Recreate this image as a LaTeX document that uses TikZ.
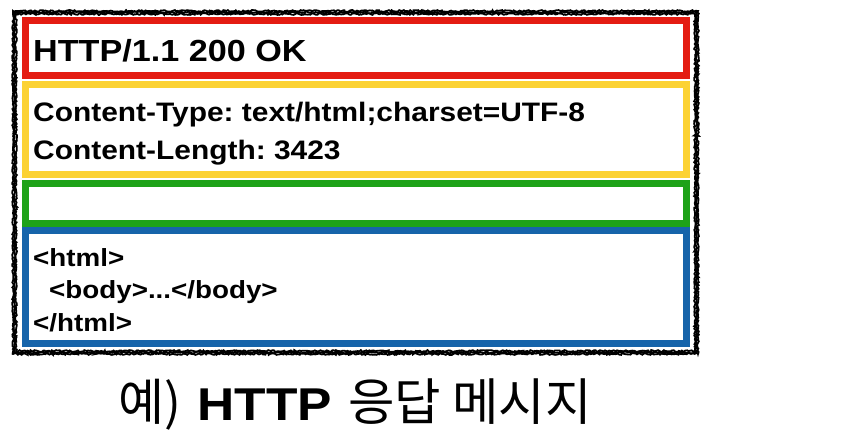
\documentclass[tikz,border=0pt]{standalone}
\usepackage{fontspec}
\setmainfont[FakeStretch=1.12]{Liberation Sans}
\newfontfamily\krfont{Noto Sans CJK KR}
\usetikzlibrary{decorations.pathmorphing}
\definecolor{redc}{RGB}{228,28,18}
\definecolor{yelc}{RGB}{252,210,52}
\definecolor{grnc}{RGB}{30,162,24}
\definecolor{bluc}{RGB}{22,100,170}
\frenchspacing
\begin{document}
\begin{tikzpicture}[x=1pt,y=-1pt,
  box/.style={rectangle, line width=7pt, minimum width=661pt, inner sep=0pt},
  sketch/.style={draw=black, line width=1.8pt, decorate, decoration={random steps, segment length=1.5pt, amplitude=0.9pt}},
  txt/.style={anchor=base west, inner sep=0pt, font=\bfseries}]
\useasboundingbox (0,0) rectangle (853,436);
% message boxes
\node (start) [box, draw=redc, minimum height=55pt] at (356,48) {};
\node (hdrs) [box, draw=yelc, minimum height=90pt] at (356,129.5) {};
\node (empty) [box, draw=grnc, minimum height=40pt] at (356,203.5) {};
\node (body) [box, draw=bluc, minimum height=113pt] at (356,287) {};
% sketchy frame
\coordinate (fa) at (14.5,12.5);
\coordinate (fb) at (696.5,352.5);
\foreach \o in {-1.5,0,1.5} {
  \draw[sketch] ([shift={(\o,\o)}]fa) rectangle ([shift={(-\o,-\o)}]fb);
}
% texts
\node (t1) [txt, font=\bfseries\fontsize{30.5}{40}\selectfont] at (33,62) {HTTP/1.1 200 OK};
\node (t2) [txt, font=\bfseries\fontsize{26.7}{32}\selectfont] at (33,121) {Content-Type: text/html;charset=UTF-8};
\node (t3) [txt, font=\bfseries\fontsize{26.7}{32}\selectfont] at (33,159) {Content-Length: 3423};
\node (t4) [txt, font=\bfseries\fontsize{24.8}{30}\selectfont] at (33,266) {<html>};
\node (t5) [txt, font=\bfseries\fontsize{24.8}{30}\selectfont] at (49,298) {<body>...</body>};
\node (t6) [txt, font=\bfseries\fontsize{24.8}{30}\selectfont] at (33,331) {</html>};
\node (cap) [anchor=base west, inner sep=0pt, font=\fontsize{46}{52}\selectfont] at (118,420) {{\krfont\fontsize{50}{52}\selectfont 예)}\hspace{2pt} {\bfseries HTTP}\hspace{2pt} {\krfont\fontsize{50.5}{52}\selectfont 응답 메시지}};
\end{tikzpicture}
\end{document}
